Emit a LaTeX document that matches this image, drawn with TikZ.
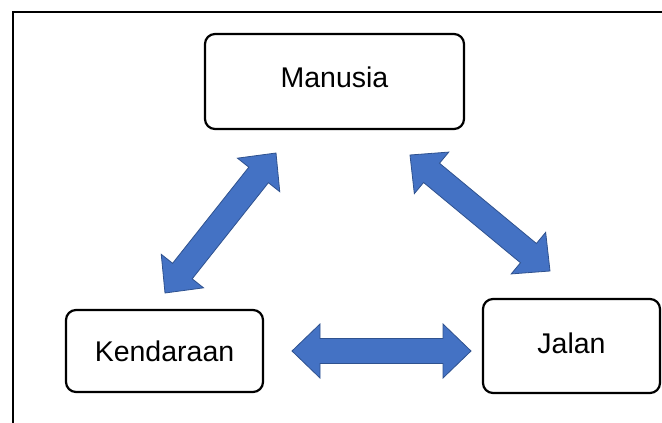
\documentclass[tikz,border=0pt]{standalone}
\usepackage{fontspec}
\setmainfont{Liberation Sans}
\usepackage{xcolor}
\usepackage{tikz}
\usetikzlibrary{calc,positioning}
\definecolor{arrowfill}{HTML}{4472C4}
\definecolor{arrowline}{HTML}{2F528F}
% double block arrow from tip #1 to tip #2
\newcommand{\blockarrow}[2]{%
  \path ($(#1)!28pt!(#2)$) coordinate (h1) ($(#2)!28pt!(#1)$) coordinate (h2);
  \filldraw[blockarrow] (#1) -- ($(h1)!27pt!90:(#2)$) -- ($(h1)!12.5pt!90:(#2)$)
    -- ($(h2)!12.5pt!-90:(#1)$) -- ($(h2)!27pt!-90:(#1)$) -- (#2)
    -- ($(h2)!27pt!90:(#1)$) -- ($(h2)!12.5pt!90:(#1)$)
    -- ($(h1)!12.5pt!-90:(#2)$) -- ($(h1)!27pt!-90:(#2)$) -- cycle;
}

\begin{document}
\begin{tikzpicture}[x=1pt,y=-1pt,
  box/.style={draw, line width=2.2pt, rounded corners=10pt, inner sep=0pt,
    font=\fontsize{28.5}{34}\selectfont},
  blockarrow/.style={fill=arrowfill, draw=arrowline, line width=0.8pt, line join=miter}]
  \useasboundingbox (0,0) rectangle (662,423);
  \clip (0,0) rectangle (662,423);
  \draw[line width=2pt] (13,430) -- (13,12) -- (670,12); % frame
  \node[box, minimum width=259pt, minimum height=95pt, text depth=8pt] (man) at (334.5,81.5) {Manusia};
  \node[box, minimum width=197pt, minimum height=82pt] (ken) at (164.5,351) {Kendaraan};
  \node[box, minimum width=177pt, minimum height=94pt, text depth=5pt] (jal) at (571.5,346) {Jalan};
  \coordinate (mkA) at (276,153);
  \coordinate (mkB) at (165,293);
  \coordinate (mjA) at (410,155);
  \coordinate (mjB) at (550,271);
  \coordinate (kjA) at (292,351);
  \coordinate (kjB) at (471,351);
  \blockarrow{mkA}{mkB}
  \blockarrow{mjA}{mjB}
  \blockarrow{kjA}{kjB}
\end{tikzpicture}
\end{document}
